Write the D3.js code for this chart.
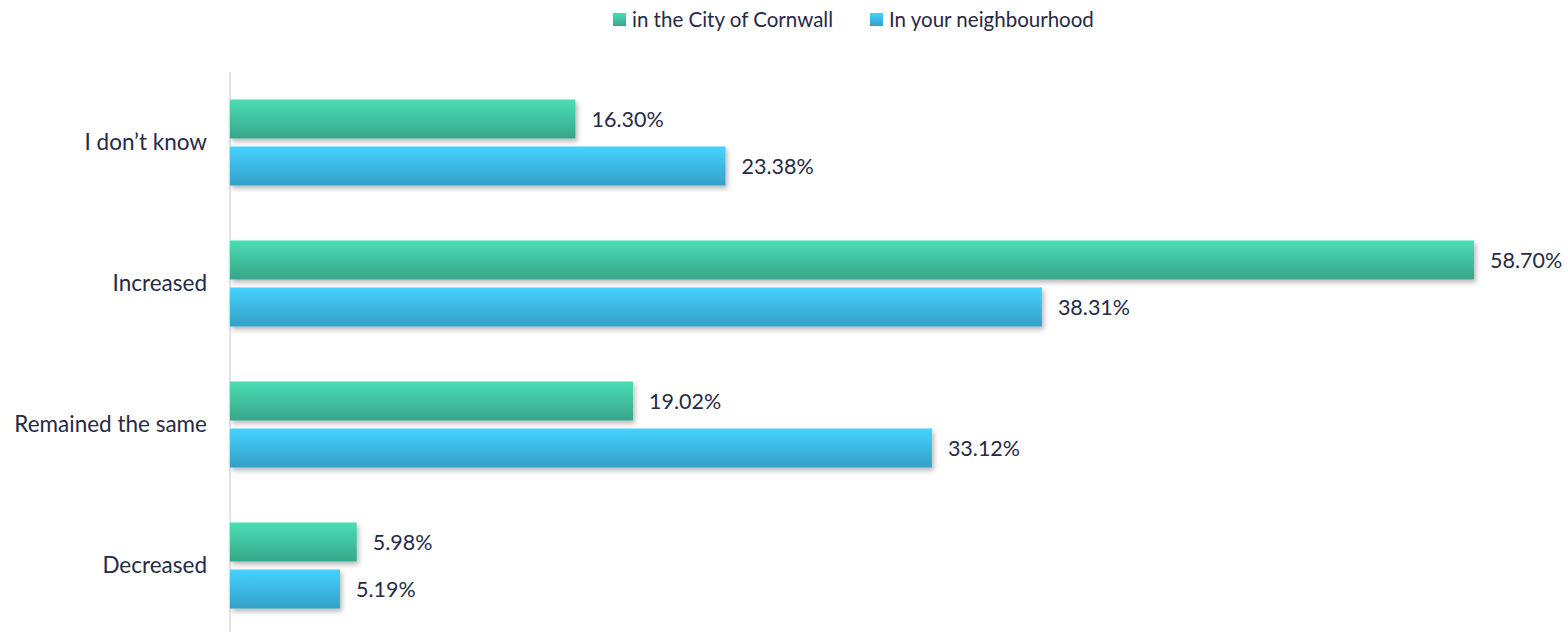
<!DOCTYPE html>
<html>
<head>
<meta charset="utf-8">
<script src="https://cdn.jsdelivr.net/npm/d3@7"></script>
<style>
  body { margin: 0; background: #fff; }
  svg { display: block; font-family: Lato, "Open Sans", sans-serif; }
</style>
</head>
<body>
<svg id="barChart" width="1568" height="632"></svg>
<script>
const categories = ["I don\u2019t know", "Increased", "Remained the same", "Decreased"];
const seriesNames = ["in the City of Cornwall", "In your neighbourhood"];
const cityValues = [16.30, 58.70, 19.02, 5.98];
const neighbourhoodValues = [23.38, 38.31, 33.12, 5.19];

const data = categories.map((c, i) => ({
    cat: c,
    values: [
        {key: seriesNames[0], value: cityValues[i]},
        {key: seriesNames[1], value: neighbourhoodValues[i]}
    ]
}));

const width = 1568;
const height = 632;
const margin = ({top: 72, right: 0, bottom: -4, left: 230});
const textColor = "#262a45";

const svg = d3.select('#barChart');

const x = d3.scaleLinear()
    .domain([0, 58.7])
    .range([margin.left, 1474]);

const y0 = d3.scaleBand()
    .domain(categories)
    .range([margin.top, height - margin.bottom])
    .paddingInner(0.39)
    .paddingOuter(0.195);

const y1 = d3.scaleBand()
    .domain(seriesNames)
    .range([0, y0.bandwidth()])
    .paddingInner(0.17);

// gradients + shadow
const defs = svg.append("defs");
const grads = [
    {id: "g0", top: "#4adeb5", bottom: "#38a689"},
    {id: "g1", top: "#44d2ff", bottom: "#34a0c8"}
];
grads.forEach(g => {
    const lg = defs.append("linearGradient")
        .attr("id", g.id)
        .attr("x1", 0).attr("y1", 0).attr("x2", 0).attr("y2", 1);
    lg.append("stop").attr("offset", "0%").attr("stop-color", g.top);
    lg.append("stop").attr("offset", "100%").attr("stop-color", g.bottom);
});
const color = d3.scaleOrdinal().domain(seriesNames).range(["url(#g0)", "url(#g1)"]);

const filter = defs.append("filter").attr("id", "shadow")
    .attr("x", "-5%").attr("y", "-20%").attr("width", "115%").attr("height", "160%");
filter.append("feDropShadow")
    .attr("dx", 2).attr("dy", 3).attr("stdDeviation", 2.5)
    .attr("flood-color", "#000").attr("flood-opacity", 0.28);

// axis line
svg.append("line")
    .attr("x1", x(0)).attr("x2", x(0))
    .attr("y1", margin.top).attr("y2", height)
    .attr("stroke", "#d9d9e6")
    .attr("stroke-width", 1.5);

const groups = svg.append("g")
    .selectAll("g")
    .data(data)
    .join("g")
    .attr("transform", d => `translate(0,${y0(d.cat)})`);

groups.selectAll("rect")
    .data(d => d.values)
    .join("rect")
    .attr("x", x(0))
    .attr("y", d => y1(d.key))
    .attr("height", y1.bandwidth())
    .attr("width", d => x(d.value) - x(0))
    .attr("fill", d => color(d.key))
    .attr("filter", "url(#shadow)");

groups.selectAll("text.val")
    .data(d => d.values)
    .join("text")
    .attr("class", "val")
    .attr("x", d => x(d.value) + 16)
    .attr("y", d => y1(d.key) + y1.bandwidth() / 2)
    .attr("dy", "0.35em")
    .attr("fill", textColor)
    .attr("font-size", 21.5)
    .text(d => d.value.toFixed(2) + "%");

// category labels
const yAxis = g => g
    .attr("transform", `translate(${margin.left},0)`)
    .call(d3.axisLeft(y0).tickSize(0).tickPadding(23))
    .call(g => g.select(".domain").remove())
    .call(g => g.selectAll("text")
        .attr("font-size", 22.5)
        .attr("font-family", "Lato, 'Open Sans', sans-serif")
        .attr("fill", textColor));

svg.append("g").call(yAxis);

// legend
const legendPos = [613, 870];
const legend = svg.append("g")
    .selectAll("g")
    .data(seriesNames)
    .join("g")
    .attr("transform", (d, i) => `translate(${legendPos[i]},13)`);

legend.append("rect")
    .attr("width", 13).attr("height", 13)
    .attr("fill", d => color(d));

legend.append("text")
    .attr("x", 19)
    .attr("y", 6.5)
    .attr("dy", "0.35em")
    .attr("font-size", 20.5)
    .attr("fill", textColor)
    .text(d => d);
</script>
</body>
</html>
